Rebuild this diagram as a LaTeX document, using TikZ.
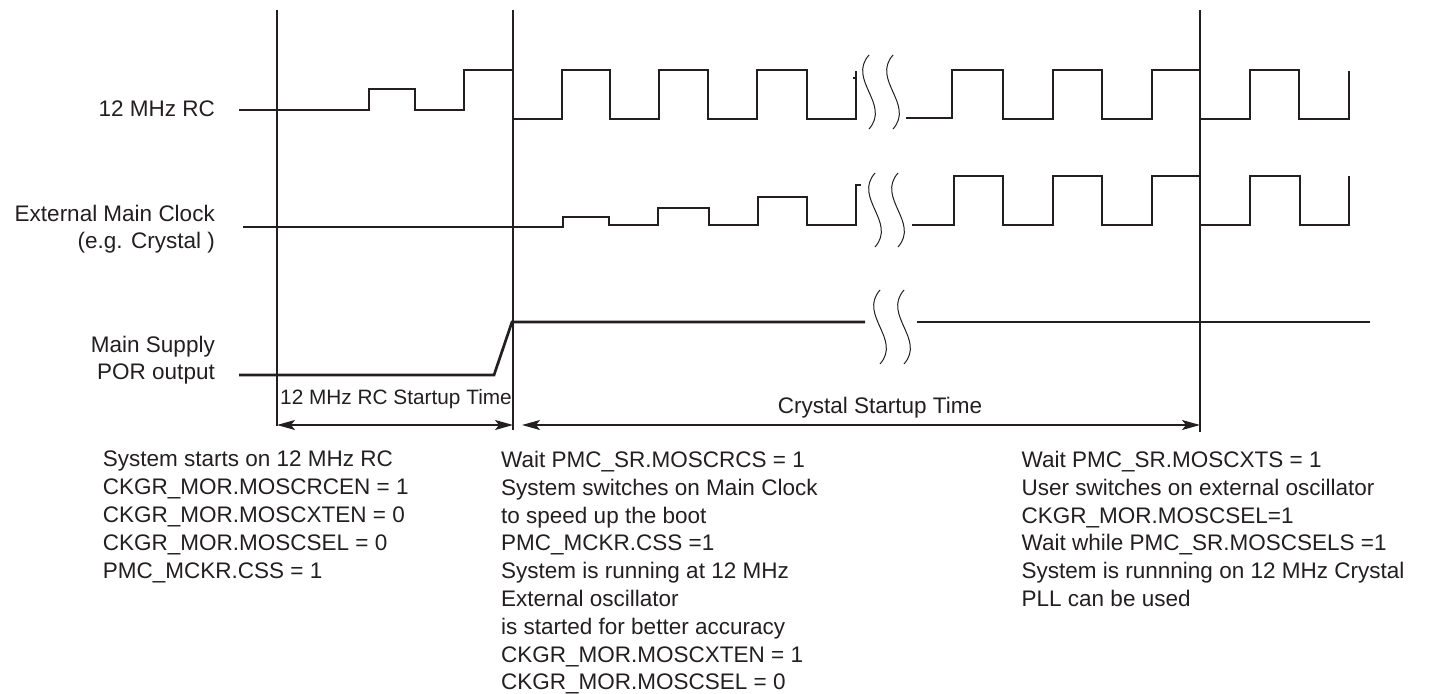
\documentclass[tikz,border=0pt]{standalone}
\usepackage{fontspec}
\setmainfont{Liberation Sans}
\usetikzlibrary{arrows.meta}
\definecolor{ink}{HTML}{231F20}
\begin{document}
\begin{tikzpicture}[x=1pt,y=-1pt,
  wave/.style={draw=ink,line width=2.7pt,line join=miter},
  guide/.style={draw=ink,line width=1.2pt},
  dim/.style={draw=ink,line width=1.2pt,{Stealth[length=18pt,width=10pt,inset=4pt]}-{Stealth[length=18pt,width=10pt,inset=4pt]}},
  txt/.style={text=ink,inner sep=0pt,font=\fontsize{22.5}{27.8}\selectfont},
  brk/.pic={\draw[ink,line width=1pt] (0,0) .. controls (-22,25) and (22,49) .. (0,74);}
]
\useasboundingbox (0,0) rectangle (1434,693);

% signal labels
\node[txt,anchor=base east] (lrc) at (215,116.7) {12 MHz RC};
\node[txt,anchor=north east,align=right] (lext) at (215,204.6) {External Main Clock\\(e.g. Crystal )};
\node[txt,anchor=north east,align=right] (lpor) at (215,335.6) {Main Supply\\POR output};

% guide lines
\coordinate (g1t) at (277,10);  \coordinate (g1b) at (277,426);
\coordinate (g2t) at (513,10);  \coordinate (g2b) at (513,430);
\coordinate (g3t) at (1200,10); \coordinate (g3b) at (1200,432);
\draw[guide] (g1t) -- (g1b);
\draw[guide] (g2t) -- (g2b);
\draw[guide] (g3t) -- (g3b);

% 12 MHz RC
\draw[wave] (239,110) -- (369,110) -- (369,89) -- (415,89) -- (415,110) -- (464,110) -- (464,70)
  -- (513,70) -- (513,119) -- (562,119) -- (562,70) -- (610,70) -- (610,119) -- (659,119)
  -- (659,70) -- (708,70) -- (708,119) -- (757,119) -- (757,70) -- (807,70) -- (807,119)
  -- (856,119) -- (856,71);
\draw[ink,line width=2pt] (852.5,78) -- (856,78);
\draw[wave] (906,118) -- (952,118) -- (952,70) -- (1003,70) -- (1003,119) -- (1053,119)
  -- (1053,70) -- (1102,70) -- (1102,119) -- (1152,119) -- (1152,70) -- (1200,70) -- (1200,119)
  -- (1250,119) -- (1250,70) -- (1299,70) -- (1299,119) -- (1349,119) -- (1349,71);
\pic at (869,55) {brk};
\pic at (893,55) {brk};

% External main clock
\draw[wave] (243,227) -- (563,227) -- (563,217) -- (609,217) -- (609,225) -- (658,225)
  -- (658,208) -- (709,208) -- (709,225) -- (758,225) -- (758,197) -- (807,197) -- (807,225)
  -- (856,225) -- (856,185) -- (861,185);
\draw[wave] (912,225) -- (954,225) -- (954,176) -- (1003,176) -- (1003,225) -- (1053,225)
  -- (1053,176) -- (1102,176) -- (1102,225) -- (1152,225) -- (1152,176) -- (1200,176) -- (1200,225)
  -- (1250,225) -- (1250,176) -- (1300,176) -- (1300,225) -- (1349,225) -- (1349,176);
\pic at (875,173) {brk};
\pic at (898,173) {brk};

% POR output
\draw[wave] (239,375) -- (494,375) -- (512,322) -- (865,322);
\draw[wave] (917,322) -- (1370,322);
\pic at (880,290) {brk};
\pic at (904,290) {brk};

% dimension arrows
\coordinate (a1l) at (277,425); \coordinate (a1r) at (513,425);
\coordinate (a2l) at (522,425); \coordinate (a2r) at (1200,425);
\draw[dim] (a1l) -- (a1r);
\draw[dim] (a2l) -- (a2r);
\node[txt,anchor=base,font=\fontsize{20.8}{25}\selectfont] (trc) at (396,404) {12 MHz RC Startup Time};
\node[txt,anchor=base] (txt2) at (880,413) {Crystal Startup Time};

% descriptions
\node[txt,anchor=north west,align=left] (d1) at (102.7,451) {System starts on 12 MHz RC\\
CKGR\_MOR.MOSCRCEN = 1\\
CKGR\_MOR.MOSCXTEN = 0\\
CKGR\_MOR.MOSCSEL = 0\\
PMC\_MCKR.CSS = 1};
\node[txt,anchor=north west,align=left] (d2) at (501,451) {Wait PMC\_SR.MOSCRCS = 1\\
System switches on Main Clock\\
to speed up the boot\\
PMC\_MCKR.CSS =1\\
System is running at 12 MHz\\
External oscillator\\
is started for better accuracy\\
CKGR\_MOR.MOSCXTEN = 1\\
CKGR\_MOR.MOSCSEL = 0};
\node[txt,anchor=north west,align=left] (d3) at (1021.5,451) {Wait PMC\_SR.MOSCXTS = 1\\
User switches on external oscillator\\
CKGR\_MOR.MOSCSEL=1\\
Wait while PMC\_SR.MOSCSELS =1\\
System is runnning on 12 MHz Crystal\\
PLL can be used};
\end{tikzpicture}
\end{document}
